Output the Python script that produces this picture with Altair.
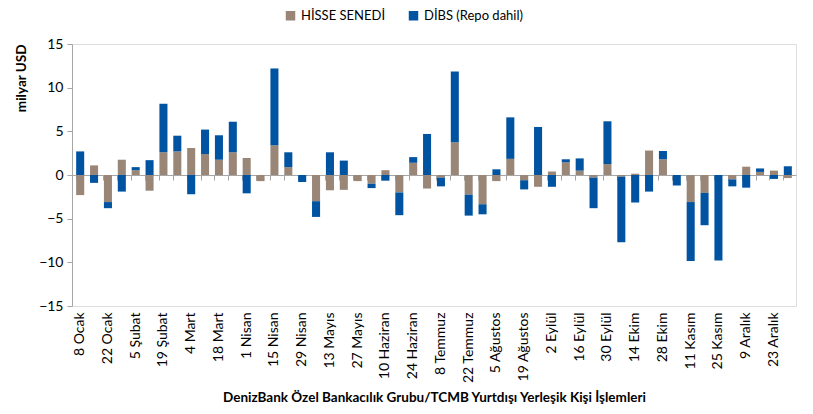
import altair as alt
import pandas as pd
import json

weeks = ["8 Ocak", "15 Ocak", "22 Ocak", "29 Ocak", "5 Şubat", "12 Şubat", "19 Şubat", "26 Şubat",
         "4 Mart", "11 Mart", "18 Mart", "25 Mart", "1 Nisan", "8 Nisan", "15 Nisan", "22 Nisan",
         "29 Nisan", "6 Mayıs", "13 Mayıs", "20 Mayıs", "27 Mayıs", "3 Haziran", "10 Haziran", "17 Haziran",
         "24 Haziran", "1 Temmuz", "8 Temmuz", "15 Temmuz", "22 Temmuz", "29 Temmuz", "5 Ağustos", "12 Ağustos",
         "19 Ağustos", "26 Ağustos", "2 Eylül", "9 Eylül", "16 Eylül", "23 Eylül", "30 Eylül", "7 Ekim",
         "14 Ekim", "21 Ekim", "28 Ekim", "4 Kasım", "11 Kasım", "18 Kasım", "25 Kasım", "2 Aralık",
         "9 Aralık", "16 Aralık", "23 Aralık", "30 Aralık"]

tick_labels = ["8 Ocak", "22 Ocak", "5 Şubat", "19 Şubat", "4 Mart", "18 Mart", "1 Nisan", "15 Nisan",
               "29 Nisan", "13 Mayıs", "27 Mayıs", "10 Haziran", "24 Haziran", "8 Temmuz", "22 Temmuz",
               "5 Ağustos", "19 Ağustos", "2 Eylül", "16 Eylül", "30 Eylül", "14 Ekim", "28 Ekim",
               "11 Kasım", "25 Kasım", "9 Aralık", "23 Aralık"]

hisse = [-2.3, 1.1, -3.1, 1.75, 0.55, -1.8, 2.6, 2.7,
         3.1, 2.4, 1.75, 2.6, 1.95, -0.7, 3.4, 0.9,
         0.0, -3.0, -1.75, -1.7, -0.7, -1.0, 0.55, -2.0,
         1.4, -1.55, -0.3, 3.75, -2.25, -3.35, -0.7, 1.85,
         -0.6, -1.35, 0.4, 1.45, 0.5, -0.3, 1.25, -0.2,
         0.15, 2.8, 1.8, 0.0, -3.1, -2.05, 0.0, -0.5,
         0.95, 0.35, 0.5, -0.35]

dibs = [2.7, -0.9, -0.7, -1.9, 0.35, 1.7, 5.55, 1.8,
        -2.2, 2.8, 2.8, 3.5, -2.1, 0.0, 8.8, 1.7,
        -0.8, -1.8, 2.6, 1.65, 0.0, -0.5, -0.65, -2.6,
        0.65, 4.7, -1.0, 8.1, -2.4, -1.15, 0.65, 4.75,
        -1.05, 5.5, -1.35, 0.35, 1.4, -3.5, 4.9, -7.5,
        -3.15, -1.9, 0.95, -1.2, -6.75, -3.7, -9.8, -0.8,
        -1.45, 0.4, -0.45, 1.0]

series = ["HİSSE SENEDİ", "DİBS (Repo dahil)"]
colors = ["#9A8677", "#0053A0"]

rows = []
for i, w in enumerate(weeks):
    rows.append({"hafta": w, "seri": series[0], "deger": hisse[i], "sira": 0})
    rows.append({"hafta": w, "seri": series[1], "deger": dibs[i], "sira": 1})
df = pd.DataFrame(rows)

FONT = "Lato"
W, H = 724, 262
label_expr = "indexof(" + json.dumps(tick_labels, ensure_ascii=False) + ", datum.value) >= 0 ? datum.value : ''"

chart = alt.Chart(df).mark_bar().encode(
    x=alt.X("hafta:N", sort=weeks,
            scale=alt.Scale(paddingInner=0.42, paddingOuter=0.3),
            axis=alt.Axis(title="DenizBank Özel Bankacılık Grubu/TCMB Yurtdışı Yerleşik Kişi İşlemleri",
                          labelAngle=-90, labelExpr=label_expr, offset=-H / 2,
                          labelPadding=H / 2 + 1, bandPosition=0, tickSize=5,
                          domainColor="#A6A6A6", tickColor="#A6A6A6", labelColor="#000000",
                          labelFontSize=14, labelFont=FONT, titleFont=FONT, titleFontSize=13.5,
                          titleFontWeight="bold", titleColor="#000000", titlePadding=15)),
    y=alt.Y("deger:Q", stack="zero",
            scale=alt.Scale(domain=[-15, 15], nice=False),
            axis=alt.Axis(title="milyar USD", values=[-15, -10, -5, 0, 5, 10, 15], grid=False,
                          domainColor="#A6A6A6", tickColor="#A6A6A6", tickSize=5,
                          labelFont=FONT, labelFontSize=14, labelColor="#000000", labelPadding=4,
                          titleFont=FONT, titleFontSize=13.5, titleFontWeight="bold",
                          titleColor="#000000", titlePadding=10, titleAnchor="end")),
    color=alt.Color("seri:N", sort=series,
                    scale=alt.Scale(domain=series, range=colors),
                    legend=alt.Legend(title=None, orient="none", direction="horizontal",
                                      legendX=212, legendY=-35, symbolType="square",
                                      symbolSize=90, symbolStrokeWidth=0, labelFont=FONT,
                                      labelFontSize=13, labelColor="#000000", columnPadding=21)),
    order=alt.Order("sira:Q", sort="ascending"),
).properties(
    width=W, height=H,
    autosize=alt.AutoSizeParams(type="none"),
    padding={"left": 64, "top": 36, "right": 9, "bottom": 99},
).configure_view(stroke=None).configure(background="white")

chart.save("out.html", embed_options={"renderer": "svg", "actions": False})
